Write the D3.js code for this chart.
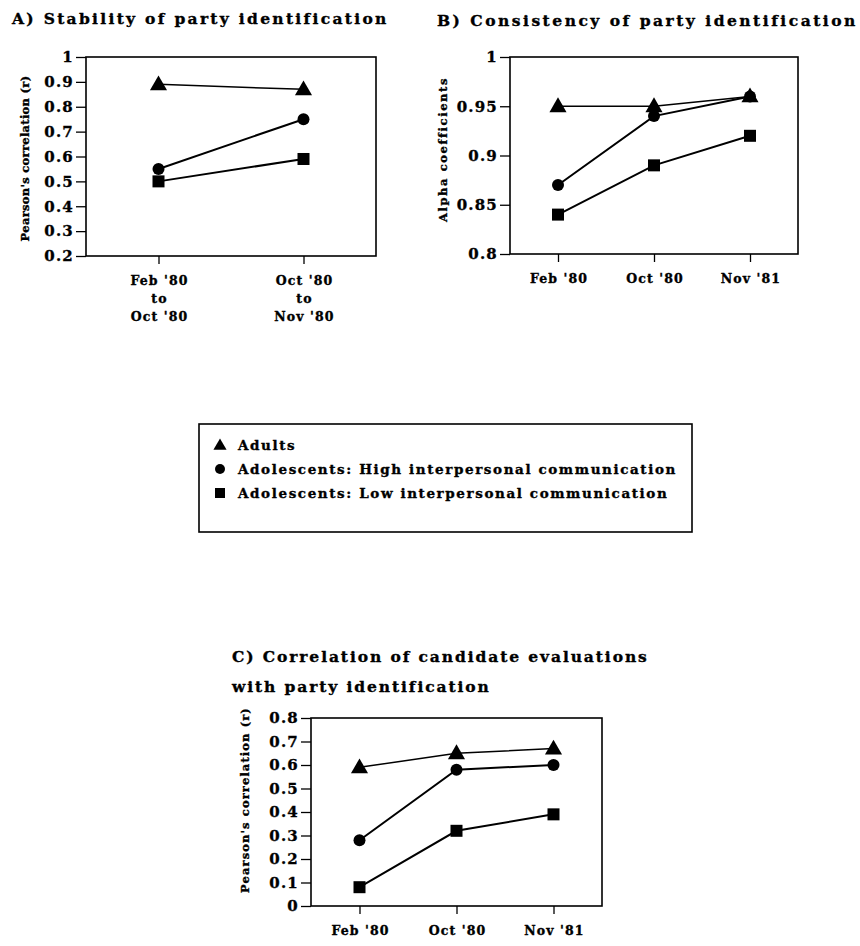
<!DOCTYPE html>
<html>
<head>
<meta charset="utf-8">
<script src="https://cdn.jsdelivr.net/npm/d3@7"></script>
<style>
  body { margin: 0; background: #fff; }
  svg text { font-family: "DejaVu Serif", serif; font-weight: bold; fill: #000; stroke: #000; stroke-width: 0.35px; }
</style>
</head>
<body>
<div id="chart"></div>
<script>

// --- Daten ------------------------------------------------------------------ //

var seriesNames = ['Adults', 'Adolescents: High interpersonal communication', 'Adolescents: Low interpersonal communication'];
var seriesMarks = ['triangle', 'circle', 'square'];

var catsA = [["Feb '80", 'to', "Oct '80"], ["Oct '80", 'to', "Nov '80"]];
var adultsA = [0.89, 0.87];
var highA = [0.55, 0.75];
var lowA = [0.50, 0.59];
var ticksA = [0.2, 0.3, 0.4, 0.5, 0.6, 0.7, 0.8, 0.9, 1];

var catsB = [["Feb '80"], ["Oct '80"], ["Nov '81"]];
var adultsB = [0.95, 0.95, 0.96];
var highB = [0.87, 0.94, 0.96];
var lowB = [0.84, 0.89, 0.92];
var ticksB = [0.8, 0.85, 0.9, 0.95, 1];

var catsC = [["Feb '80"], ["Oct '80"], ["Nov '81"]];
var adultsC = [0.59, 0.65, 0.67];
var highC = [0.28, 0.58, 0.60];
var lowC = [0.08, 0.32, 0.39];
var ticksC = [0, 0.1, 0.2, 0.3, 0.4, 0.5, 0.6, 0.7, 0.8];


var svg = d3.select('#chart').append('svg')
    .attr('width', 860)
    .attr('height', 946);


// --- Marker zeichnen --------------------------------------------------------- //

function drawMarker(_g, _type, _x, _y, _size) {
    if (_type == 'circle') {
        _g.append('circle').attr('cx', _x).attr('cy', _y).attr('r', _size / 2).attr('fill', '#000');
    } else if (_type == 'square') {
        _g.append('rect').attr('x', _x - _size / 2).attr('y', _y - _size / 2)
            .attr('width', _size).attr('height', _size).attr('fill', '#000');
    } else {
        var s = d3.symbol().type(d3.symbolTriangle).size(_size * _size * 0.75);
        _g.append('path').attr('d', s()).attr('transform', 'translate(' + _x + ',' + (_y + 1) + ')').attr('fill', '#000');
    }
}


// --- Panel zeichnen ---------------------------------------------------------- //

function drawPanel(_p) {

    var g = svg.append('g');

    var x = d3.scalePoint()
        .domain(d3.range(_p.cats.length))
        .range([_p.left, _p.left + _p.width])
        .padding(0.5);

    var y = d3.scaleLinear()
        .domain(_p.domain)
        .range([_p.top + _p.height, _p.top]);

    // Titel
    _p.title.forEach(function (t, i) {
        g.append('text')
            .attr('x', _p.titleX)
            .attr('y', _p.titleY + i * 30)
            .style('font-size', '15.5px')
            .style('letter-spacing', _p.titleSpacing + 'px')
            .text(t);
    });

    // Rahmen
    g.append('rect')
        .attr('x', _p.left).attr('y', _p.top)
        .attr('width', _p.width).attr('height', _p.height)
        .attr('fill', 'none').attr('stroke', '#000').attr('stroke-width', 1.6);

    // y-Achse
    var yAxis = g.append('g')
        .attr('transform', 'translate(' + _p.left + ',0)')
        .call(d3.axisLeft(y).tickValues(_p.ticks).tickSize(10).tickPadding(2).tickFormat(d3.format('~g')));
    yAxis.select('.domain').remove();
    yAxis.selectAll('line').attr('stroke-width', 1.3);
    yAxis.selectAll('text')
        .attr('font-family', null)
        .style('font-size', '15px')
        .style('letter-spacing', '1.2px');

    // x-Achse
    var xAxis = g.append('g')
        .attr('transform', 'translate(0,' + (_p.top + _p.height) + ')')
        .call(d3.axisBottom(x).tickSize(8).tickFormat(''));
    xAxis.select('.domain').remove();
    xAxis.selectAll('line').attr('stroke-width', 1.3);

    _p.cats.forEach(function (c, i) {
        c.forEach(function (line, j) {
            g.append('text')
                .attr('x', x(i) + 1)
                .attr('y', _p.top + _p.height + 29 + j * 18)
                .attr('text-anchor', 'middle')
                .style('font-size', '12.5px')
                .style('letter-spacing', '1.1px')
                .text(line);
        });
    });

    // y-Titel
    g.append('text')
        .attr('transform', 'translate(' + _p.yTitleX + ',' + (_p.top + _p.height / 2 + _p.yTitleShift) + ') rotate(-90)')
        .attr('text-anchor', 'middle')
        .style('font-size', '11.5px')
        .style('letter-spacing', _p.yTitleSpacing + 'px')
        .text(_p.yTitle);

    // Linien und Marker
    var line = d3.line()
        .x(function (d, i) { return x(i); })
        .y(function (d) { return y(d); });

    _p.series.forEach(function (vals, k) {
        g.append('path')
            .attr('d', line(vals))
            .attr('fill', 'none')
            .attr('stroke', '#000')
            .attr('stroke-width', k == 0 ? 1.5 : 2);
    });

    _p.series.forEach(function (vals, k) {
        vals.forEach(function (v, i) {
            drawMarker(g, seriesMarks[k], x(i), y(v), k == 0 ? 13 : 12);
        });
    });
}


drawPanel({
    title: ['A) Stability of party identification'], titleX: 12, titleY: 24, titleSpacing: 2.3,
    cats: catsA, series: [adultsA, highA, lowA], ticks: ticksA, domain: [0.2, 1],
    left: 86, top: 57, width: 290, height: 199,
    yTitle: "Pearson's correlation (r)", yTitleX: 29, yTitleShift: 2, yTitleSpacing: 0.3
});

drawPanel({
    title: ['B) Consistency of party identification'], titleX: 437, titleY: 26, titleSpacing: 2.5,
    cats: catsB, series: [adultsB, highB, lowB], ticks: ticksB, domain: [0.8, 1],
    left: 510, top: 57, width: 288, height: 197,
    yTitle: 'Alpha coefficients', yTitleX: 447, yTitleShift: -6, yTitleSpacing: 1.6
});

drawPanel({
    title: ['C) Correlation of candidate evaluations', 'with party identification'], titleX: 232, titleY: 662, titleSpacing: 1.9,
    cats: catsC, series: [adultsC, highC, lowC], ticks: ticksC, domain: [0, 0.8],
    left: 311, top: 718, width: 291, height: 188,
    yTitle: "Pearson's correlation (r)", yTitleX: 249, yTitleShift: -12, yTitleSpacing: 1.1
});


// --- Legende ----------------------------------------------------------------- //

var legend = svg.append('g');

legend.append('rect')
    .attr('x', 199).attr('y', 424)
    .attr('width', 493).attr('height', 108)
    .attr('fill', 'none').attr('stroke', '#000').attr('stroke-width', 1.6);

seriesNames.forEach(function (name, k) {
    var yy = 450 + k * 24;
    drawMarker(legend, seriesMarks[k], 220, yy - 5, 10);
    legend.append('text')
        .attr('x', 238)
        .attr('y', yy)
        .style('font-size', '13.5px')
        .style('letter-spacing', '1.6px')
        .text(name);
});

</script>
</body>
</html>
